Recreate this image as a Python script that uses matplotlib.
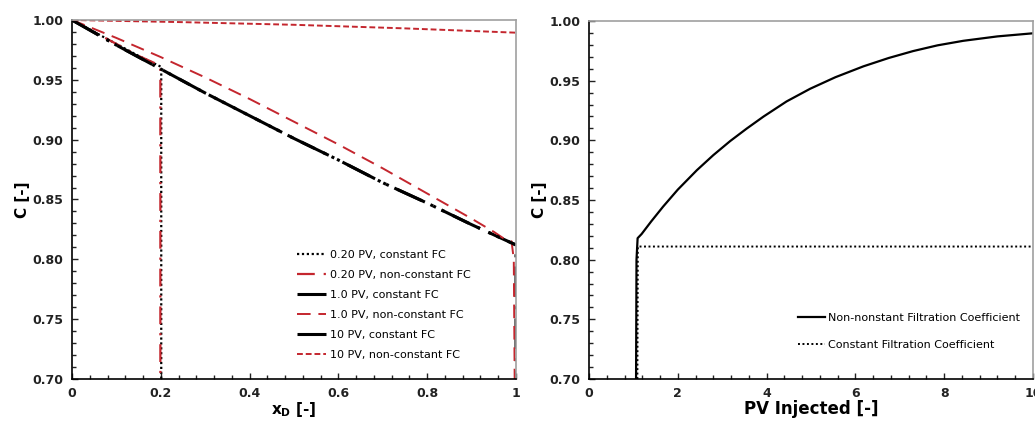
import matplotlib
matplotlib.use("Agg")
import matplotlib.pyplot as plt
from matplotlib.ticker import MultipleLocator, FormatStrFormatter

RED = "#C4262E"

# ---- Left panel data: concentration profiles vs dimensionless distance ----
x_02c = [0.0, 0.05, 0.10, 0.15, 0.20, 0.201, 0.201]
c_02c = [1.0, 0.990, 0.980, 0.970, 0.961, 0.961, 0.70]

x_02n = [0.0, 0.05, 0.10, 0.15, 0.198, 0.199, 0.199]
c_02n = [1.0, 0.990, 0.980, 0.970, 0.962, 0.958, 0.70]

x_1c = [0.0, 0.1, 0.2, 0.3, 0.4, 0.5, 0.6, 0.7, 0.8, 0.9, 1.0, 1.0]
c_1c = [1.0, 0.979, 0.959, 0.939, 0.920, 0.901, 0.883, 0.864, 0.847, 0.829, 0.812, 0.70]

x_1n = [0.0, 0.1, 0.2, 0.3, 0.4, 0.5, 0.6, 0.7, 0.8, 0.9, 0.95, 0.97, 0.99, 0.995, 0.997]
c_1n = [1.0, 0.985, 0.969, 0.952, 0.934, 0.915, 0.896, 0.876, 0.855, 0.834, 0.823, 0.818, 0.815, 0.80, 0.70]

x_10c = [0.0, 0.1, 0.2, 0.3, 0.4, 0.5, 0.6, 0.7, 0.8, 0.9, 1.0]
c_10c = [1.0, 0.979, 0.959, 0.939, 0.920, 0.901, 0.883, 0.864, 0.847, 0.829, 0.812]

x_10n = [0.0, 0.25, 0.5, 0.75, 1.0]
c_10n = [1.0, 0.9982, 0.9960, 0.9930, 0.9894]

left_labels = ["0.20 PV, constant FC", "0.20 PV, non-constant FC",
               "1.0 PV, constant FC", "1.0 PV, non-constant FC",
               "10 PV, constant FC", "10 PV, non-constant FC"]

# ---- Right panel data: effluent concentration vs PV injected ----
pv_nc = [1.06, 1.07, 1.095, 1.185, 1.4, 1.67, 2.0, 2.43, 2.8, 3.18, 3.55, 3.93,
         4.45, 4.98, 5.55, 6.18, 6.75, 7.3, 7.85, 8.43, 9.2, 10.0]
c_nc = [0.70, 0.80, 0.818, 0.8215, 0.832, 0.8445, 0.8587, 0.875, 0.8876, 0.8994, 0.9098, 0.9199,
        0.9326, 0.9432, 0.9529, 0.9620, 0.969, 0.9748, 0.9796, 0.9834, 0.9871, 0.9897]

pv_c = [1.09, 1.10, 1.12, 10.0]
c_c = [0.70, 0.811, 0.811, 0.811]

right_labels = ["Non-nonstant Filtration Coefficient", "Constant Filtration Coefficient"]

fig = plt.figure(figsize=(10.35, 4.21), dpi=100)
ax1 = fig.add_axes([72/1035, 1-379/421, 444/1035, 359/421])
ax2 = fig.add_axes([589/1035, 1-379/421, 444/1035, 358/421])

ax1.plot(x_02c, c_02c, color="black", lw=1.6, linestyle=(0, (1, 1.2)), label=left_labels[0])
ax1.plot(x_02n, c_02n, color=RED, lw=1.6, linestyle=(0, (8, 4, 1, 4)), label=left_labels[1])
ax1.plot(x_1c, c_1c, color="black", lw=2.2, linestyle=(0, (10, 3, 1, 3)), label=left_labels[2])
ax1.plot(x_1n, c_1n, color=RED, lw=1.4, linestyle=(0, (7, 4)), label=left_labels[3])
ax1.plot(x_10c, c_10c, color="black", lw=2.2, linestyle=(0, (10, 3, 1, 2, 1, 3)), label=left_labels[4])
ax1.plot(x_10n, c_10n, color=RED, lw=1.4, linestyle=(0, (3, 1.5)), label=left_labels[5])

ax2.plot(pv_nc, c_nc, color="black", lw=1.6, linestyle="-", label=right_labels[0])
ax2.plot(pv_c, c_c, color="black", lw=1.4, linestyle=(0, (1, 1.3)), label=right_labels[1])

for ax in (ax1, ax2):
    ax.set_ylim(0.70, 1.00)
    ax.yaxis.set_major_locator(MultipleLocator(0.05))
    ax.yaxis.set_minor_locator(MultipleLocator(0.01))
    ax.yaxis.set_major_formatter(FormatStrFormatter("%.2f"))
    ax.tick_params(which="both", direction="in", top=False, right=False,
                   labelsize=9, width=1, colors="#222222")
    ax.tick_params(which="major", length=4, pad=6)
    ax.tick_params(which="minor", length=3)
    for s in ("left", "bottom"):
        ax.spines[s].set_color("black")
        ax.spines[s].set_linewidth(1.2)
    for s in ("top", "right"):
        ax.spines[s].set_color("#A0A0A0")
        ax.spines[s].set_linewidth(1.2)
    for lab in ax.get_xticklabels() + ax.get_yticklabels():
        lab.set_fontweight("semibold")
    ax.set_ylabel("C [-]", fontsize=11, fontweight="semibold", labelpad=2)

ax1.set_xlim(0, 1)
ax1.xaxis.set_minor_locator(MultipleLocator(0.04))
ax1.set_xticks([0, 0.2, 0.4, 0.6, 0.8, 1.0])
ax1.set_xticklabels(["0", "0.2", "0.4", "0.6", "0.8", "1"])
for lab in ax1.get_xticklabels():
    lab.set_fontweight("semibold")
ax1.set_xlabel("x$_\\mathregular{D}$ [-]", fontsize=11, fontweight="semibold", labelpad=0)

ax2.set_xlim(0, 10)
ax2.xaxis.set_major_locator(MultipleLocator(2))
ax2.xaxis.set_minor_locator(MultipleLocator(0.4))
ax2.set_xlabel("PV Injected [-]", fontsize=12, fontweight="semibold", labelpad=0)

leg1 = ax1.legend(loc="lower left", bbox_to_anchor=(0.497, 0.04), borderaxespad=0,
                  frameon=False, fontsize=8, handlelength=2.6, handletextpad=0.4,
                  labelspacing=0.9)
leg2 = ax2.legend(loc="lower right", bbox_to_anchor=(0.993, 0.052), frameon=False,
                  fontsize=8, handlelength=2.4, handletextpad=0.3, labelspacing=1.6)

fig.savefig("out.png", dpi=100)
